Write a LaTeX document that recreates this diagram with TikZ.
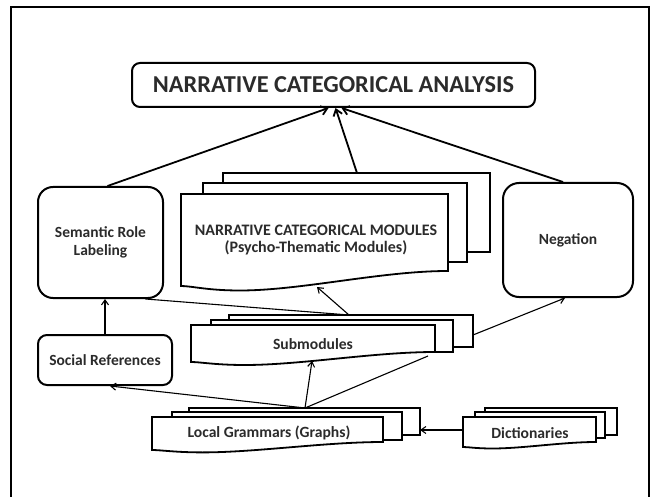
\documentclass[tikz,border=0pt]{standalone}
\usepackage{fontspec}
\setmainfont{Carlito}
\usetikzlibrary{arrows.meta,calc}
\definecolor{txt}{HTML}{2B2B2B}
\newcommand{\mydoc}[5]{% l t r bl br : front sheet with wavy bottom
  \pgfmathsetmacro{\dw}{#3-#1}%
  \pgfmathsetmacro{\dm}{#1+0.22*\dw}%
  \pgfmathsetmacro{\ym}{#4+0.3*(#4-#5)}%
  \pgfmathsetmacro{\ca}{#3-0.25*\dw}%
  \pgfmathsetmacro{\cb}{#1+0.45*\dw}%
  \pgfmathsetmacro{\cc}{#1+0.1*\dw}%
  \pgfmathsetmacro{\cd}{#1+0.04*\dw}%
  \draw[sheet] (#1,#2) -- (#3,#2) -- (#3,#5)
    .. controls (\ca,#5) and (\cb,\ym) .. (\dm,\ym)
    .. controls (\cc,\ym) and (\cd,#4) .. (#1,#4) -- cycle;}
\begin{document}
\begin{tikzpicture}[x=1pt,y=-1pt,
  box/.style={draw=black,line width=2pt,inner sep=0pt,text=txt,align=center,
    font=\bfseries\fontsize{15.5}{18.5}\selectfont},
  sheet/.style={draw=black,line width=1.8pt,fill=white},
  lbl/.style={inner sep=0pt,text=txt,align=center,font=\bfseries\fontsize{15.6}{18}\selectfont},
  big/.style={-{Straight Barb[length=6pt,width=9pt]},line width=1.8pt},
  small/.style={-{Straight Barb[length=5pt,width=7pt]},line width=1.1pt},
  plain/.style={line width=1.1pt}]
\useasboundingbox[fill=white] (0,0) rectangle (656,497);
% frame
\draw[line width=1.5pt] (11,497) -- (11,7) -- (649,7) -- (649,497);

% top box
\node[box,rounded corners=8pt,minimum width=403pt,minimum height=44pt,
  font=\bfseries\fontsize{24.3}{27}\selectfont] (top) at (333.5,85) {NARRATIVE CATEGORICAL ANALYSIS};

% side boxes
\node[box,rounded corners=15pt,minimum width=125pt,minimum height=111pt] (srl) at (100.5,242.5) {Semantic Role\\Labeling};
\node[box,rounded corners=16pt,minimum width=130pt,minimum height=114pt] (neg) at (568,240) {Negation};
\node[box,rounded corners=9pt,minimum width=134pt,minimum height=50pt] (sr) at (105,360) {Social References};

% NCM stack
\draw[sheet] (223,173) rectangle (490,252);
\draw[sheet] (203,183) rectangle (467,262);
\mydoc{181}{194}{448}{286}{271}
\node[lbl,font=\bfseries\fontsize{16}{17}\selectfont] (ncm) at (316,240) {NARRATIVE CATEGORICAL MODULES\\(Psycho-Thematic Modules)};
\coordinate (ncmtop) at (357,173);
\coordinate (ncmbot) at (317,287);

% Submodules stack
\draw[sheet] (229,315) rectangle (473,347);
\draw[sheet] (211,320) rectangle (453,352);
\mydoc{191}{325}{435}{362}{352}
\node[lbl] (subm) at (313,344) {Submodules};
\coordinate (submtop) at (349,315);
\coordinate (submbot) at (312,361);
\coordinate (submbr) at (428,356);
\coordinate (submright) at (473,335);

% Local grammars stack
\draw[sheet] (189,408) rectangle (420,435);
\draw[sheet] (172,412) rectangle (402,440);
\mydoc{152}{417}{383}{450}{442}
\node[lbl] (lg) at (269,433) {Local Grammars (Graphs)};
\coordinate (lgtop) at (305,408);
\coordinate (lgright) at (420,430);

% Dictionaries stack
\draw[sheet] (485,408) rectangle (617,435);
\draw[sheet] (475,412) rectangle (605,438);
\mydoc{463}{417}{596}{447}{442}
\node[lbl] (dict) at (530,433) {Dictionaries};
\coordinate (dictleft) at (463,430);

% connectors
\draw[big] ([xshift=7pt]srl.north) -- ([xshift=-5pt]top.south);
\draw[big] (ncmtop) -- ([xshift=2pt]top.south);
\draw[big] ([xshift=-5pt]neg.north) -- ([xshift=8pt]top.south);
\draw[small] (sr.north) -- (sr.north |- srl.south);
\draw[small] (submtop) -- (ncmbot);
\draw[plain] (submtop) -- ([xshift=45pt]srl.south);
\draw[small] (submright) -- ([xshift=-3pt]neg.south);
\draw[small] (lgtop) -- (submbot);
\draw[plain] (lgtop) -- (submbr);
\draw[small] (lgtop) -- ([xshift=5pt]sr.south);
\draw[small] (dictleft) -- (lgright);
\end{tikzpicture}
\end{document}
